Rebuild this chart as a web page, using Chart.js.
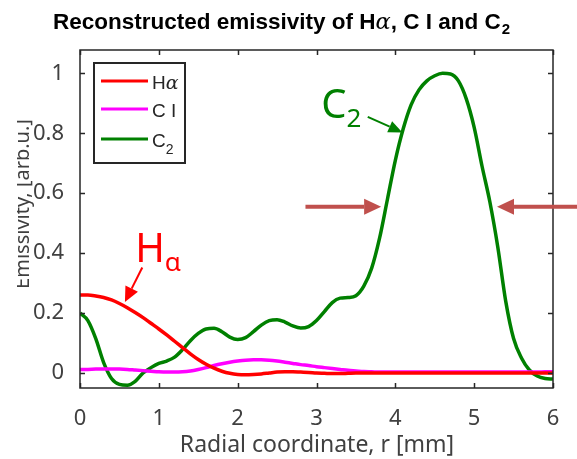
<!DOCTYPE html>
<html>
<head>
<meta charset="utf-8">
<script src="https://cdn.jsdelivr.net/npm/chart.js@4.4.1/dist/chart.umd.min.js"></script>
<style>
  html, body { margin: 0; padding: 0; background: #fff; }
  #wrap { width: 577px; height: 459px; }
</style>
</head>
<body>
<div id="wrap"><canvas id="emissivity" width="577" height="459"></canvas></div>
<script>
// radial coordinate, mm
const radius = [
  0.0, 0.1, 0.2, 0.3, 0.4, 0.5, 0.6, 0.7, 0.8, 0.9,
  1.0, 1.1, 1.2, 1.3, 1.4, 1.5, 1.6, 1.7, 1.8, 1.9,
  2.0, 2.1, 2.2, 2.3, 2.4, 2.5, 2.6, 2.7, 2.8, 2.9,
  3.0, 3.1, 3.2, 3.3, 3.4, 3.5, 3.6, 3.7, 3.8, 3.9,
  4.0, 4.1, 4.2, 4.3, 4.4, 4.5, 4.6, 4.7, 4.8, 4.9,
  5.0, 5.1, 5.2, 5.3, 5.4, 5.5, 5.6, 5.7, 5.8, 5.9,
  6.0
];

const hAlpha = [
  0.260, 0.260, 0.257, 0.252, 0.244, 0.232, 0.218, 0.202, 0.185, 0.166,
  0.147, 0.127, 0.106, 0.085, 0.064, 0.045, 0.029, 0.016, 0.006, -0.001,
  -0.005, -0.006, -0.005, -0.003, 0.000, 0.003, 0.004, 0.004, 0.003, 0.002,
  0.000, -0.001, -0.002, -0.002, -0.001, 0.000, 0.000, 0.000, 0.000, 0.000,
  0.000, 0.000, 0.000, 0.000, 0.000, 0.000, 0.000, 0.000, 0.000, 0.000,
  0.000, 0.000, 0.000, 0.000, 0.000, 0.000, 0.000, 0.000, 0.000, 0.000,
  0.000
];

const carbonI = [
  0.012, 0.012, 0.013, 0.013, 0.013, 0.013, 0.012, 0.010, 0.008, 0.006,
  0.004, 0.003, 0.003, 0.004, 0.007, 0.012, 0.018, 0.025, 0.031, 0.036,
  0.040, 0.043, 0.044, 0.044, 0.043, 0.040, 0.036, 0.032, 0.028, 0.025,
  0.021, 0.018, 0.015, 0.012, 0.009, 0.007, 0.005, 0.004, 0.003, 0.003,
  0.003, 0.003, 0.003, 0.003, 0.003, 0.003, 0.003, 0.003, 0.003, 0.003,
  0.003, 0.003, 0.003, 0.003, 0.003, 0.003, 0.003, 0.003, 0.003, 0.004,
  0.004
];

const carbonDimer = [
  0.200, 0.175, 0.115, 0.035, -0.018, -0.038, -0.041, -0.028, 0.000, 0.018,
  0.032, 0.040, 0.053, 0.078, 0.108, 0.132, 0.147, 0.149, 0.138, 0.120,
  0.112, 0.118, 0.138, 0.160, 0.175, 0.178, 0.170, 0.157, 0.150, 0.155,
  0.175, 0.205, 0.235, 0.250, 0.252, 0.258, 0.290, 0.350, 0.450, 0.580,
  0.710, 0.815, 0.895, 0.945, 0.975, 0.992, 1.000, 0.998, 0.975, 0.915,
  0.820, 0.690, 0.570, 0.420, 0.240, 0.115, 0.050, 0.010, -0.010, -0.018,
  -0.020
];

const xTicks = [0, 1, 2, 3, 4, 5, 6];
const yTicks = [0, 0.2, 0.4, 0.6, 0.8, 1];

const series = [
  { name: 'Hα', values: hAlpha, color: '#ff0000' },
  { name: 'C I', values: carbonI, color: '#ff00ff' },
  { name: 'C2', values: carbonDimer, color: '#008000' }
];

const AXIS_COLOR = '#262626';
const LABEL_COLOR = '#404040';
const SANS = '"Noto Sans", "Open Sans", sans-serif';
const HELV = '"Liberation Sans", Arial, sans-serif';
const ARROW_RED = '#c0504d';

function arrow(ctx, x0, y0, x1, y1, width, headLen, headHalf, color) {
  const ang = Math.atan2(y1 - y0, x1 - x0);
  const bx = x1 - headLen * Math.cos(ang);
  const by = y1 - headLen * Math.sin(ang);
  ctx.save();
  ctx.strokeStyle = color;
  ctx.fillStyle = color;
  ctx.lineWidth = width;
  ctx.beginPath();
  ctx.moveTo(x0, y0);
  ctx.lineTo(bx, by);
  ctx.stroke();
  ctx.beginPath();
  ctx.moveTo(x1, y1);
  ctx.lineTo(bx + headHalf * Math.sin(ang), by - headHalf * Math.cos(ang));
  ctx.lineTo(bx - headHalf * Math.sin(ang), by + headHalf * Math.cos(ang));
  ctx.closePath();
  ctx.fill();
  ctx.restore();
}

// writes text runs one after another: [text, font, dy]
function runs(ctx, x, y, parts, color) {
  ctx.save();
  ctx.fillStyle = color;
  ctx.textBaseline = 'alphabetic';
  ctx.textAlign = 'left';
  for (const [text, font, dy] of parts) {
    ctx.font = font;
    ctx.fillText(text, x, y + (dy || 0));
    x += ctx.measureText(text).width;
  }
  ctx.restore();
  return x;
}

// boxed axes with inward ticks on all four sides
const frame = {
  id: 'frame',
  afterDatasetsDraw(chart) {
    const { ctx, chartArea: a, scales: { x, y } } = chart;
    ctx.save();
    ctx.strokeStyle = AXIS_COLOR;
    ctx.lineWidth = 1.5;
    ctx.strokeRect(a.left, a.top, a.right - a.left, a.bottom - a.top);
    ctx.beginPath();
    const t = 5;
    for (const v of xTicks) {
      const px = Math.round(x.getPixelForValue(v)) + 0.5;
      ctx.moveTo(px, a.bottom); ctx.lineTo(px, a.bottom - t);
      ctx.moveTo(px, a.top); ctx.lineTo(px, a.top + t);
    }
    for (const v of yTicks) {
      const py = Math.round(y.getPixelForValue(v)) + 0.5;
      ctx.moveTo(a.left, py); ctx.lineTo(a.left + t, py);
      ctx.moveTo(a.right, py); ctx.lineTo(a.right - t, py);
    }
    ctx.stroke();
    ctx.restore();
  }
};

const notes = {
  id: 'notes',
  afterDraw(chart) {
    const { ctx, chartArea: a, scales: { x, y } } = chart;

    // title
    const tf = 'bold 22.5px ' + HELV;
    const end = runs(ctx, 53, 29, [
      ['Reconstructed emissivity of H', tf],
      ['α', 'italic 22.5px "DejaVu Serif", serif'],
      [', C I and C', tf]
    ], '#000');
    runs(ctx, end + 1, 29, [['2', 'bold 15px ' + HELV, 5]], '#000');

    // y-axis title, partly cut by the left edge
    ctx.save();
    ctx.beginPath();
    ctx.rect(17, 0, 60, chart.height);
    ctx.clip();
    ctx.translate(28.5, 204);
    ctx.rotate(-Math.PI / 2);
    ctx.font = '20px ' + SANS;
    ctx.fillStyle = LABEL_COLOR;
    ctx.textAlign = 'center';
    ctx.textBaseline = 'alphabetic';
    ctx.fillText('Emissivity, [arb.u.]', 0, 0);
    ctx.restore();

    // x-axis title
    ctx.save();
    ctx.font = '23px ' + SANS;
    ctx.fillStyle = LABEL_COLOR;
    ctx.textAlign = 'center';
    ctx.fillText('Radial coordinate, r [mm]', 317, 452);
    ctx.restore();

    // legend
    ctx.save();
    ctx.fillStyle = '#fff';
    ctx.fillRect(94, 63, 91, 100);
    ctx.strokeStyle = AXIS_COLOR;
    ctx.lineWidth = 2;
    ctx.strokeRect(94, 63, 91, 100);
    ctx.restore();
    const lf = '19px ' + HELV;
    const rows = [81, 109, 139];
    series.forEach((s, i) => {
      ctx.save();
      ctx.strokeStyle = s.color;
      ctx.lineWidth = 3;
      ctx.beginPath();
      ctx.moveTo(101, rows[i]);
      ctx.lineTo(148, rows[i]);
      ctx.stroke();
      ctx.restore();
    });
    runs(ctx, 152, 89, [['H', lf], ['α', 'italic 19px "DejaVu Serif", serif']], AXIS_COLOR);
    runs(ctx, 152, 117, [['C I', lf]], AXIS_COLOR);
    runs(ctx, 152, 147, [['C', lf], ['2', '14px ' + HELV, 7]], AXIS_COLOR);

    // H-alpha label and arrow
    runs(ctx, x.getPixelForValue(0.70), y.getPixelForValue(0.372),
      [['H', '40px ' + SANS], ['α', '26px ' + SANS, 9]], '#ff0000');
    arrow(ctx, x.getPixelForValue(0.79), y.getPixelForValue(0.352),
      x.getPixelForValue(0.57), y.getPixelForValue(0.237), 2, 15, 7, '#ff0000');

    // C2 label and arrow
    runs(ctx, x.getPixelForValue(3.06), y.getPixelForValue(0.852),
      [['C', '40px ' + SANS], ['2', '26px ' + SANS, 9]], '#008000');
    arrow(ctx, x.getPixelForValue(3.65), y.getPixelForValue(0.855),
      x.getPixelForValue(4.09), y.getPixelForValue(0.803), 2, 14, 6, '#008000');

    // width markers on the C2 peak
    const yw = y.getPixelForValue(0.555);
    arrow(ctx, x.getPixelForValue(2.86), yw, x.getPixelForValue(3.82), yw, 4, 17, 8, ARROW_RED);
    arrow(ctx, x.getPixelForValue(6.35), yw, x.getPixelForValue(5.29), yw, 4, 17, 8, ARROW_RED);
  }
};

new Chart(document.getElementById('emissivity'), {
  type: 'line',
  data: {
    datasets: series.map(s => ({
      label: s.name,
      data: radius.map((r, i) => ({ x: r, y: s.values[i] })),
      borderColor: s.color,
      borderWidth: 3.5,
      pointRadius: 0,
      cubicInterpolationMode: 'monotone',
      fill: false
    }))
  },
  options: {
    responsive: false,
    animation: false,
    layout: { padding: { top: 50, right: 24, left: 0, bottom: 0 } },
    plugins: { legend: { display: false }, tooltip: { enabled: false } },
    scales: {
      x: {
        type: 'linear',
        min: 0,
        max: 6,
        grid: { display: false },
        border: { display: false },
        ticks: { color: LABEL_COLOR, font: { family: SANS, size: 22 }, padding: 10, callback: v => String(v) },
        afterBuildTicks: s => { s.ticks = xTicks.map(v => ({ value: v })); },
        afterFit: s => { s.height = 71; }
      },
      y: {
        min: -0.05,
        max: 1.078,
        grid: { display: false },
        border: { display: false },
        ticks: { color: LABEL_COLOR, font: { family: SANS, size: 22 }, padding: 8, callback: v => String(v) },
        afterBuildTicks: s => { s.ticks = yTicks.map(v => ({ value: v })); },
        afterFit: s => { s.width = 80; }
      }
    }
  },
  plugins: [frame, notes]
});
</script>
</body>
</html>
